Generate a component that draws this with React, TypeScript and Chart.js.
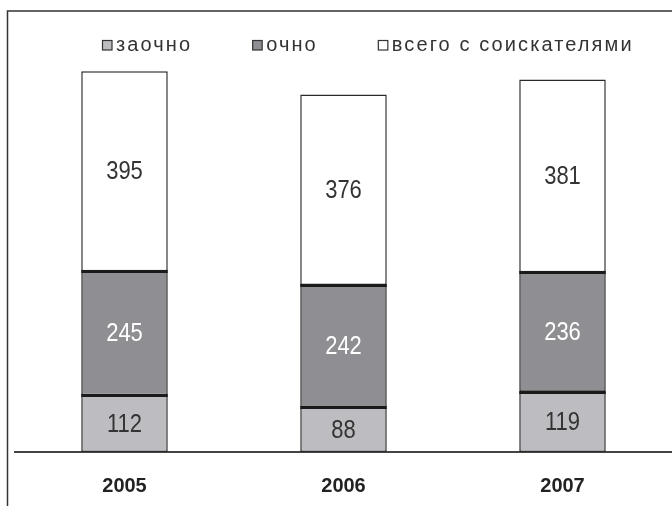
import React, { useEffect, useRef } from "react";
import { Chart, registerables } from "chart.js";

Chart.register(...registerables);

const categories = ["2005", "2006", "2007"];
const seriesNames = ["заочно", "очно", "всего с соискателями"];
const zaochno = [112, 88, 119];
const ochno = [245, 242, 236];
const vsego = [395, 376, 381];

const fills = ["#bdbdc1", "#8f8f93", "#ffffff"];
const labelColors = ["#333333", "#ffffff", "#333333"];

const framePlugin = {
  id: "frame",
  beforeDraw(chart: any) {
    const ctx = chart.ctx;
    ctx.save();
    ctx.fillStyle = "#ffffff";
    ctx.fillRect(0, 0, chart.width, chart.height);
    ctx.strokeStyle = "#333333";
    ctx.lineWidth = 1.5;
    ctx.beginPath();
    ctx.moveTo(7.5, chart.height + 2);
    ctx.lineTo(7.5, 11);
    ctx.lineTo(chart.width + 2, 11);
    ctx.stroke();
    ctx.restore();
  },
};

const legendPlugin = {
  id: "customLegend",
  afterDraw(chart: any) {
    const ctx = chart.ctx;
    ctx.save();
    ctx.font = "20px 'Liberation Sans', Arial, sans-serif";
    (ctx as any).letterSpacing = "2.1px";
    ctx.textBaseline = "alphabetic";
    ctx.textAlign = "left";
    let x = 102;
    chart.data.datasets.forEach((ds: any) => {
      ctx.fillStyle = ds.backgroundColor;
      ctx.fillRect(x, 40, 10, 10);
      ctx.strokeStyle = "#333333";
      ctx.lineWidth = 1.2;
      ctx.strokeRect(x + 0.5, 40.5, 9.5, 9.5);
      ctx.fillStyle = "#333333";
      const tx = x + 14;
      ctx.fillText(ds.label, tx, 51);
      const w = ctx.measureText(ds.label).width;
      x = tx + w + 60;
    });
    ctx.restore();
  },
};

const seamPlugin = {
  id: "seams",
  afterDatasetsDraw(chart: any) {
    const ctx = chart.ctx;
    ctx.save();
    ctx.strokeStyle = "#1a1a1a";
    ctx.lineWidth = 3;
    chart.data.datasets.forEach((ds: any, i: number) => {
      if (i === 0) return;
      const meta = chart.getDatasetMeta(i);
      meta.data.forEach((el: any) => {
        const half = el.width / 2;
        const y = Math.round(el.base) + 0.5;
        ctx.beginPath();
        ctx.moveTo(el.x - half, y);
        ctx.lineTo(el.x + half, y);
        ctx.stroke();
      });
    });
    ctx.restore();
  },
};

const valuePlugin = {
  id: "values",
  afterDatasetsDraw(chart: any) {
    const ctx = chart.ctx;
    ctx.save();
    ctx.font = "22px 'Liberation Sans', Arial, sans-serif";
    ctx.textAlign = "center";
    ctx.textBaseline = "middle";
    chart.data.datasets.forEach((ds: any, i: number) => {
      const meta = chart.getDatasetMeta(i);
      meta.data.forEach((el: any, j: number) => {
        const cx = el.x;
        const cy = (el.y + el.base) / 2;
        ctx.save();
        ctx.translate(cx, cy);
        ctx.scale(1, 1.13);
        ctx.fillStyle = labelColors[i];
        ctx.fillText(String(ds.data[j]), 0, 1);
        ctx.restore();
      });
    });
    ctx.restore();
  },
};

export default function App() {
  const canvasRef = useRef<HTMLCanvasElement | null>(null);

  useEffect(() => {
    if (!canvasRef.current) return;
    const series = [zaochno, ochno, vsego];
    const chart = new Chart(canvasRef.current, {
      type: "bar",
      data: {
        labels: categories,
        datasets: series.map((d, i) => ({
          label: seriesNames[i],
          data: d,
          backgroundColor: fills[i],
          borderColor: "#2a2a2a",
          borderWidth: 1.5,
          borderSkipped: false,
          inflateAmount: 0,
          barPercentage: 0.395,
          categoryPercentage: 1,
        })),
      },
      options: {
        animation: false,
        responsive: false,
        maintainAspectRatio: false,
        devicePixelRatio: 1,
        layout: { padding: { left: 15, right: 0, top: 47, bottom: -14 } },
        plugins: {
          legend: { display: false },
          tooltip: { enabled: false },
        },
        scales: {
          x: {
            stacked: true,
            grid: { display: false, drawTicks: false },
            border: { display: true, color: "#444444", width: 2 },
            ticks: {
              padding: 22,
              color: "#222222",
              font: { family: "'Liberation Sans', Arial, sans-serif", size: 20, weight: "bold" },
            },
          },
          y: {
            stacked: true,
            display: false,
            min: 0,
            max: 800,
          },
        },
      },
      plugins: [framePlugin, legendPlugin, seamPlugin, valuePlugin],
    });
    return () => chart.destroy();
  }, []);

  return (
    <div style={{ position: "fixed", left: 0, top: 0, width: 672, height: 506 }}>
      <canvas ref={canvasRef} width={672} height={506} style={{ width: 672, height: 506 }} />
    </div>
  );
}
